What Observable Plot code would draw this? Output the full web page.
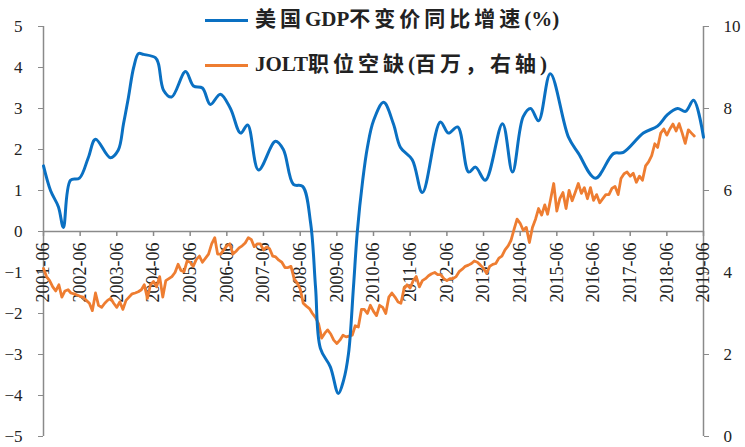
<!DOCTYPE html>
<html>
<head>
<meta charset="utf-8">
<script src="https://cdn.jsdelivr.net/npm/d3@7"></script>
<script src="https://cdn.jsdelivr.net/npm/@observablehq/plot@0.6"></script>
<style>
  body { margin: 0; background: #fff; }
  #wrap { position: relative; width: 745px; height: 447px; }
  .leg { position: absolute; left: 205px; font-family: "Liberation Serif", "Noto Sans CJK SC", serif; font-weight: bold; font-size: 21px; color: #222; white-space: nowrap; line-height: 26px; }
  .leg span.sw { display: inline-block; width: 43px; height: 3px; vertical-align: middle; margin-right: 7px; position: relative; top: -1px; }
  .leg span.cjk { letter-spacing: 4px; font-family: "Noto Sans CJK SC", sans-serif; }
</style>
</head>
<body>
<div id="wrap"></div>
<script>
// GDP YoY (%) (dates of turning points)
const gdpDates = ["2001-06-01","2001-08-10","2001-10-28","2001-12-16","2002-02-25","2002-05-25","2002-08-21","2002-11-01","2003-03-28","2003-06-15","2003-08-07","2003-09-25","2003-11-16","2004-01-04","2004-02-22","2004-06-19","2004-07-19","2004-09-10","2004-11-28","2005-04-16","2005-07-04","2005-10-01","2005-12-19","2006-03-28","2006-07-07","2006-10-16","2006-12-25","2007-04-13","2007-09-28","2007-12-16","2008-03-25","2008-06-25","2008-09-13","2008-11-01","2008-12-19","2009-03-28","2009-06-16","2009-08-07","2009-09-25","2009-11-13","2009-12-22","2010-02-13","2010-04-01","2010-06-01","2010-09-10","2010-12-16","2011-02-25","2011-06-22","2011-10-01","2012-03-28","2012-06-16","2012-09-16","2013-01-04","2013-03-13","2013-06-19","2013-12-07","2014-03-16","2014-07-01","2014-09-13","2014-12-01","2015-03-28","2015-09-25","2016-01-04","2016-06-19","2016-12-16","2017-03-25","2017-10-10","2018-02-28","2018-06-07","2018-09-16","2018-12-04","2019-02-22","2019-06-01"];
const gdpValues = [1.6,1.0,0.6,0.1,1.25,1.3,1.8,2.25,1.8,1.98,2.63,3.27,4.0,4.34,4.32,4.24,4.1,3.44,3.28,3.9,3.55,3.5,3.1,3.35,3.0,2.4,2.6,1.5,2.2,2.0,1.15,1.1,0.2,-1.37,-2.85,-3.3,-3.95,-3.63,-2.98,-1.37,0,1.24,2.05,2.7,3.15,2.63,2.05,1.75,0.95,2.67,2.4,2.55,1.45,1.57,1.25,2.63,1.45,2.8,3.0,2.7,3.85,2.3,1.9,1.3,1.9,1.93,2.4,2.57,2.85,3.0,2.93,3.2,2.3];

// JOLT job openings (millions), monthly from 2001-06
const joltStart = "2001-06-01";
const joltValues = [
4.1,3.9,3.8,3.65,3.55,3.7,3.4,3.55,3.58,3.5,3.48,3.45,
3.42,3.4,3.32,3.25,3.07,3.5,3.2,3.15,3.25,3.32,3.37,3.25,
3.15,3.28,3.1,3.32,3.4,3.48,3.5,3.53,3.58,3.7,3.37,3.7,
3.78,3.65,3.9,3.4,3.8,3.85,3.9,4.0,4.2,4.05,4.02,4.28,
4.25,4.15,4.32,4.4,4.25,4.35,4.45,4.7,4.85,4.45,4.45,4.55,
4.65,4.7,4.45,4.52,4.6,4.65,4.72,4.85,4.8,4.63,4.7,4.7,
4.55,4.62,4.58,4.4,4.38,4.3,4.25,4.12,4.12,4.15,3.85,3.75,
3.6,3.25,3.18,3.12,3.0,2.9,2.75,2.4,2.52,2.6,2.5,2.35,
2.27,2.35,2.47,2.43,2.45,2.47,2.7,2.67,3.1,3.1,3.0,3.2,
3.05,2.95,3.2,3.15,3.0,3.4,3.5,3.4,3.28,3.25,3.6,3.7,
3.62,3.8,3.9,3.65,3.8,3.85,3.92,3.97,4.0,3.95,3.95,3.85,
3.8,3.85,3.85,3.9,4.02,4.08,4.15,4.18,4.22,4.28,4.25,4.18,
4.1,3.98,4.15,4.2,4.22,4.35,4.4,4.55,4.65,4.78,5.05,5.3,
5.2,5.03,5.1,4.73,5.1,5.3,5.56,5.4,5.65,5.42,5.8,6.17,
5.5,5.8,5.95,5.56,6.0,5.75,5.95,6.17,5.93,6.07,5.8,6.07,
5.76,5.9,5.7,5.8,5.9,5.9,6.05,6.1,5.9,6.29,6.41,6.45,
6.35,6.42,6.2,6.35,6.25,6.6,6.7,6.85,7.14,7.05,7.4,7.5,
7.35,7.5,7.62,7.45,7.63,7.4,7.15,7.48,7.4,7.33];

const xTickLabels = ["2001-06","2002-06","2003-06","2004-06","2005-06","2006-06","2007-06","2008-06","2009-06","2010-06","2011-06","2012-06","2013-06","2014-06","2015-06","2016-06","2017-06","2018-06","2019-06"];
const leftTicks = [-5,-4,-3,-2,-1,0,1,2,3,4,5];
const rightTickLabels = [0,2,4,6,8,10];
const legendLabels = ["美国GDP不变价同比增速(%)", "JOLT职位空缺(百万，右轴)"];
const colors = ["#0a70c2", "#ee7d31"];

const parse = d3.utcParse("%Y-%m-%d");
const gdp = gdpDates.map((d, i) => ({date: parse(d), v: gdpValues[i]}));
const j0 = parse(joltStart);
const jolt = joltValues.map((v, i) => ({date: d3.utcMonth.offset(j0, i), v}));
const xTicks = xTickLabels.map(s => parse(s + "-01"));
const offset = 5; // right axis value = left axis value + 5

const chart = Plot.plot({
  width: 745,
  height: 447,
  marginLeft: 43,
  marginRight: 42,
  marginTop: 26,
  marginBottom: 11,
  style: {fontFamily: "'Liberation Serif', serif", fontSize: "17px", color: "#222", background: "#fff"},
  x: {type: "utc", domain: [xTicks[0], xTicks[xTicks.length - 1]], axis: null},
  y: {domain: [-5, 5]},
  marks: [
    Plot.axisY({anchor: "left", ticks: leftTicks, tickSize: 5, tickPadding: 16, stroke: "#8a8a8a", fill: "#222", label: null, fontSize: 17}),
    Plot.axisY({anchor: "right", ticks: rightTickLabels.map(t => t - offset), tickFormat: d => d + offset, tickSize: 5, tickPadding: 15, stroke: "#8a8a8a", fill: "#222", label: null, fontSize: 17}),
    Plot.ruleX([xTicks[0], xTicks[xTicks.length - 1]], {y1: -5, y2: 5, stroke: "#8a8a8a", strokeWidth: 1.5}),
    Plot.ruleY([0], {stroke: "#8a8a8a", strokeWidth: 1.5}),
    Plot.ruleX(xTicks, {x: d => d, y1: 0, y2: 0, insetBottom: -5, stroke: "#8a8a8a", strokeWidth: 1.5}),
    Plot.text(xTicks, {x: d => d, y: 0, text: (d, i) => xTickLabels[i], rotate: -90, textAnchor: "end", dy: 11, fontSize: 18, fill: "#222"}),
    Plot.line(jolt, {x: "date", y: d => d.v - offset, stroke: colors[1], strokeWidth: 2.8, strokeLinejoin: "round"}),
    Plot.line(gdp, {x: "date", y: "v", stroke: colors[0], strokeWidth: 3, curve: "catmull-rom"})
  ]
});

const wrap = document.getElementById("wrap");
wrap.appendChild(chart);
const cjkRe = /[\u3000-\u9fff\uff00-\uffef]/;
legendLabels.forEach((t, i) => {
  const div = document.createElement("div");
  div.className = "leg";
  div.style.top = (i === 0 ? 4 : 49) + "px";
  div.innerHTML = `<span class="sw" style="background:${colors[i]}"></span>`;
  // split into CJK / Latin runs
  let run = "", runCjk = null;
  const flush = () => {
    if (!run) return;
    const s = document.createElement("span");
    if (runCjk) s.className = "cjk";
    s.textContent = run;
    div.appendChild(s);
    run = "";
  };
  for (const ch of t) {
    const c = cjkRe.test(ch);
    if (runCjk !== null && c !== runCjk) flush();
    runCjk = c;
    run += ch;
  }
  flush();
  wrap.appendChild(div);
});
</script>
</body>
</html>
